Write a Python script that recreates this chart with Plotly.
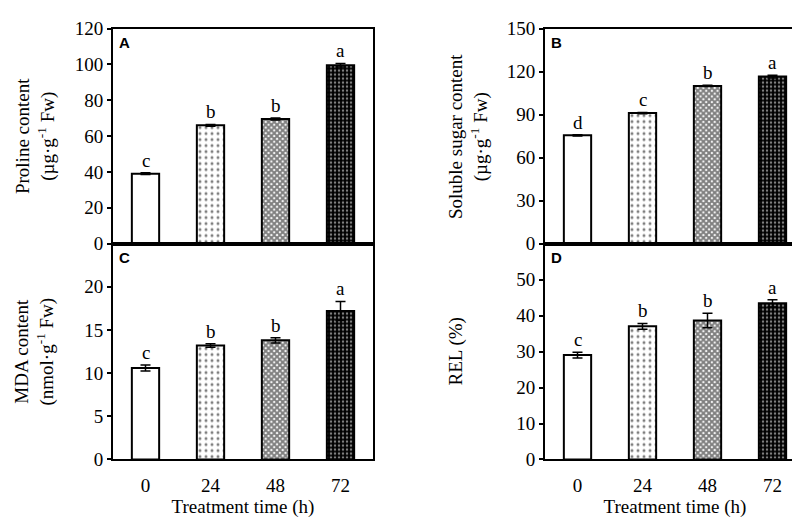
"""Quatro painéis de barras: prolina, açúcar solúvel, MDA e REL."""

import plotly.graph_objects as go
from plotly.subplots import make_subplots

# dados
tempos = ["0", "24", "48", "72"]

prolina = [39.0, 66.0, 69.5, 99.5]
prolina_err = [0.5, 0.5, 0.6, 1.0]
prolina_letras = ["c", "b", "b", "a"]

acucar = [75.5, 91.0, 110.0, 116.5]
acucar_err = [0.4, 0.5, 0.5, 1.0]
acucar_letras = ["d", "c", "b", "a"]

mda = [10.6, 13.2, 13.8, 17.2]
mda_err = [0.35, 0.2, 0.3, 1.1]
mda_letras = ["c", "b", "b", "a"]

rel = [29.0, 37.0, 38.6, 43.4]
rel_err = [0.8, 0.8, 2.0, 1.0]
rel_letras = ["c", "b", "b", "a"]

FONTE = "Liberation Serif"
PRETO = "#000000"
TAM = 19

# padrões das barras (0 h liso, depois pontos, xadrez claro, xadrez escuro)
padroes = [
    dict(shape=""),
    dict(shape=".", size=6, solidity=0.2, fgcolor=PRETO, bgcolor="white"),
    dict(shape="x", size=4, solidity=0.75, fgcolor=PRETO, bgcolor="white"),
    dict(shape=".", size=4, solidity=0.3, fgcolor="white", bgcolor=PRETO),
]

# (letra, valores, erros, letras, linha, coluna, título, faixa, ticks, x do título em px)
paineis = [
    ("A", prolina, prolina_err, prolina_letras, 1, 1,
     "Proline content<br>(µg·g<sup>-1</sup> Fw)", [0, 120], list(range(0, 121, 20)), 27),
    ("B", acucar, acucar_err, acucar_letras, 1, 2,
     "Soluble sugar content<br>(µg·g<sup>-1</sup> Fw)", [0, 150], list(range(0, 151, 30)), 460),
    ("C", mda, mda_err, mda_letras, 2, 1,
     "MDA content<br>(nmol·g<sup>-1</sup> Fw)", [0, 25], list(range(0, 21, 5)), 27),
    ("D", rel, rel_err, rel_letras, 2, 2,
     "REL (%)", [0, 60], list(range(0, 51, 10)), 448),
]

fig = make_subplots(rows=2, cols=2)

dom_x = {1: [105 / 800, 365 / 800], 2: [537 / 800, 797 / 800]}
dom_y = {1: [1 - 235 / 522, 1 - 11 / 522], 2: [1 - 460 / 522, 1 - 235 / 522]}
pos = list(range(len(tempos)))

for letra, vals, errs, sig, r, c, titulo, faixa, ticks, xt in paineis:
    for i in pos:
        fig.add_trace(go.Bar(
            x=[i], y=[vals[i]],
            marker=dict(color="white", line=dict(color=PRETO, width=2),
                        pattern=padroes[i]),
            error_y=dict(type="data", array=[errs[i]], color=PRETO,
                         thickness=1.5, width=5),
            width=0.42, showlegend=False,
        ), row=r, col=c)
        fig.add_annotation(
            x=i, y=vals[i] + errs[i], text=sig[i], showarrow=False,
            yanchor="bottom", yshift=0, font=dict(family=FONTE, size=TAM, color=PRETO),
            row=r, col=c,
        )
    fig.add_annotation(
        x=0.015, y=0.985, xref="x domain", yref="y domain", text=f"<b>{letra}</b>",
        showarrow=False, xanchor="left", yanchor="top",
        font=dict(family="Liberation Sans", size=15, color=PRETO), row=r, col=c,
    )
    # título do eixo y como anotação girada
    fig.add_annotation(
        x=xt / 800, y=sum(dom_y[r]) / 2, xref="paper", yref="paper",
        text=titulo, textangle=-90, showarrow=False,
        xanchor="center", yanchor="middle",
        font=dict(family=FONTE, size=TAM, color=PRETO),
    )
    fig.update_yaxes(
        range=faixa, tickvals=ticks, domain=dom_y[r],
        showline=True, mirror=True, linecolor=PRETO, linewidth=2,
        ticks="outside", ticklen=4, tickcolor=PRETO, tickwidth=1.5,
        showgrid=False, zeroline=False,
        tickfont=dict(family=FONTE, size=TAM, color=PRETO),
        row=r, col=c,
    )
    fig.update_xaxes(
        range=[-0.5, len(tempos) - 0.5], tickvals=pos, ticktext=tempos,
        domain=dom_x[c], showline=True, mirror=True, linecolor=PRETO, linewidth=2,
        showgrid=False, zeroline=False, showticklabels=(r == 2),
        ticklabelstandoff=8,
        tickfont=dict(family=FONTE, size=TAM, color=PRETO),
        title=dict(text="Treatment time (h)" if r == 2 else "",
                   font=dict(family=FONTE, size=TAM), standoff=2),
        row=r, col=c,
    )

fig.update_layout(
    width=800, height=522,
    margin=dict(t=0, b=0, l=0, r=0),
    plot_bgcolor="white", paper_bgcolor="white",
    font=dict(family=FONTE, color=PRETO),
    barmode="overlay",
)

fig.write_html("out.html")
